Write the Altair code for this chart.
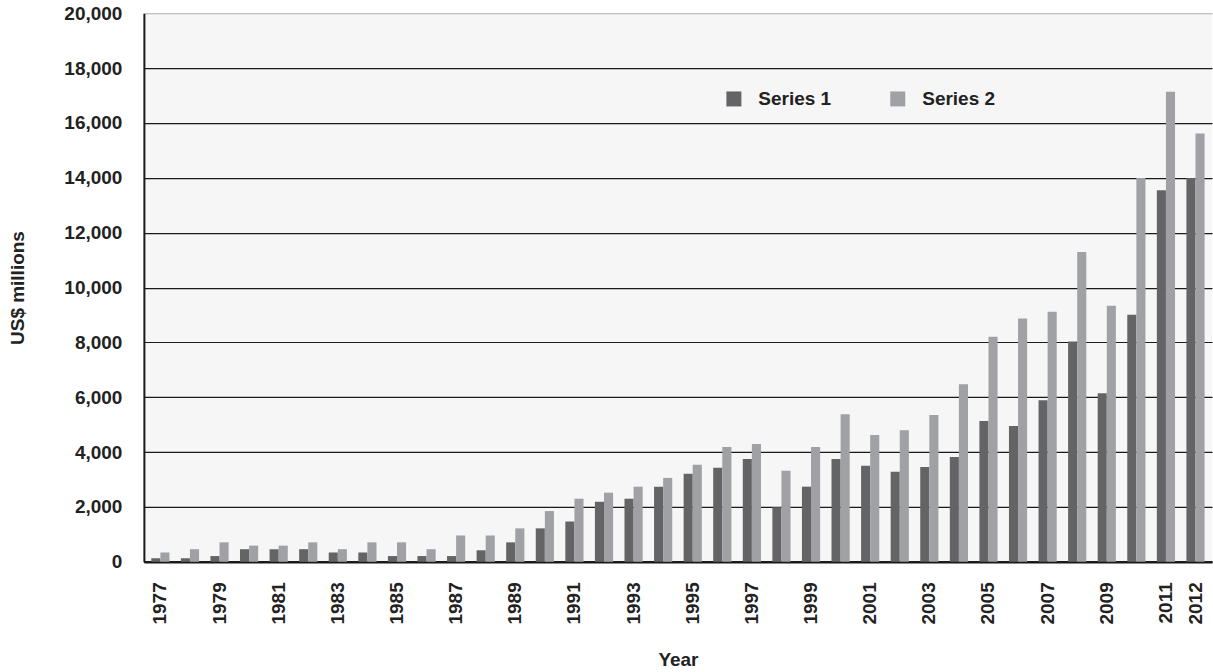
import altair as alt
import pandas as pd

years = [str(y) for y in range(1977, 2013)]
series1 = [130, 130, 210, 460, 460, 460, 340, 340, 210, 210, 210, 420,
           710, 1220, 1470, 2190, 2300, 2740, 3210, 3430, 3750, 1990, 2740,
           3750, 3500, 3280, 3460, 3820, 5130, 4950, 5890, 8030, 6150, 9010,
           13550, 13990]
series2 = [340, 460, 710, 590, 590, 710, 460, 710, 710, 460, 960, 960,
           1220, 1850, 2300, 2520, 2740, 3060, 3540, 4190, 4300, 3320, 4190,
           5380, 4620, 4800, 5350, 6470, 8210, 8870, 9120, 11300, 9340, 13990,
           17140, 15620]
series_names = ["Series 1", "Series 2"]
series_colors = ["#646466", "#a0a1a4"]
label_years = [str(y) for y in range(1977, 2012, 2)] + ["2012"]

rows = []
for i, y in enumerate(years):
    rows.append({"year": y, "series": series_names[0], "value": series1[i]})
    rows.append({"year": y, "series": series_names[1], "value": series2[i]})
df = pd.DataFrame(rows)

FONT = "Liberation Sans"

chart = alt.Chart(df).mark_bar().encode(
    x=alt.X("year:O", sort=years,
            scale=alt.Scale(paddingInner=0.385, paddingOuter=0.25),
            axis=alt.Axis(title="Year", values=label_years, labelAngle=270,
                          labelFontSize=19, labelFontWeight="bold", labelColor="#222",
                          labelPadding=20, ticks=False, domainColor="#1a1a1a",
                          domainWidth=2.5, titleFontSize=19, titleFontWeight="bold",
                          titleColor="#222", titlePadding=27)),
    xOffset=alt.XOffset("series:N", sort=series_names),
    y=alt.Y("value:Q", scale=alt.Scale(domain=[0, 20000], nice=False),
            axis=alt.Axis(title="US$ millions", values=list(range(0, 20001, 2000)),
                          format=",d", labelFontSize=19, labelFontWeight="bold",
                          labelColor="#222", labelPadding=22, ticks=False,
                          domainColor="#1a1a1a", domainWidth=2,
                          grid=True,
                          gridColor={"condition": {"test": "datum.value === 20000", "value": "#b0b0b0"},
                                     "value": "#1a1a1a"},
                          gridWidth=1.2,
                          titleFontSize=19, titleFontWeight="bold", titleColor="#222",
                          titlePadding=36)),
    color=alt.Color("series:N", sort=series_names,
                    scale=alt.Scale(domain=series_names, range=series_colors),
                    legend=alt.Legend(title=None, orient="none", direction="horizontal",
                                      legendX=581, legendY=76, symbolType="square",
                                      symbolSize=225, symbolStrokeWidth=0,
                                      labelFontSize=19, labelFontWeight="bold",
                                      labelColor="#222", labelOffset=15,
                                      columnPadding=57, padding=0)),
).properties(
    width=1069, height=549,
    padding={"left": 8, "top": 4, "right": 1, "bottom": 5},
).configure(
    font=FONT,
).configure_view(
    fill="#f6f6f6", strokeWidth=0,
)

chart.save("out.html", embed_options={"renderer": "svg", "actions": False})
